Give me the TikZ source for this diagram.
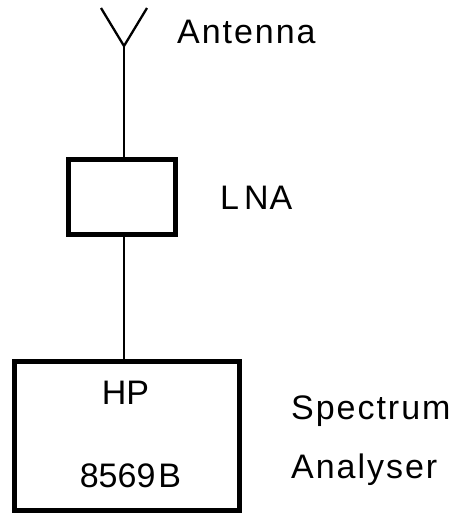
\documentclass[tikz,border=0pt]{standalone}
\usepackage{fontspec}
\setmainfont{Liberation Sans}
\newfontfamily\spaced[LetterSpace=5.8]{Liberation Sans}
\tikzset{lbl/.style={inner sep=0pt,font=\fontsize{34}{34}\selectfont,text=black},
wide/.style={lbl,font=\fontsize{34}{34}\selectfont\spaced},
thick box/.style={draw=black,line width=5pt,fill=white,inner sep=0pt,outer sep=0pt},
conn/.style={draw=black,line width=2.3pt}}
\begin{document}
\begin{tikzpicture}[x=1pt,y=-1pt]
\useasboundingbox (0,0) rectangle (455,515);
\node[thick box,minimum width=107pt,minimum height=75pt] (lna) at (122,197) {};
\node[thick box,minimum width=225pt,minimum height=149pt] (sa) at (127,436) {};
\coordinate (ant) at (124,46);
\coordinate (al) at (101,8);
\coordinate (ar) at (147,8);
\draw[conn] (ant) -- (lna.north -| ant);
\draw[conn] (lna.south -| ant) -- (sa.north -| ant);
\draw[conn,line join=miter] (al) -- (ant) -- (ar);
\node[wide,anchor=base west] (t1) at (177,43) {Antenna};
\node[lbl,anchor=base west] (t2) at (220,209) {L\kern5pt N\kern1pt A};
\node[lbl,anchor=base] (t3) at (125.5,404) {HP};
\node[lbl,anchor=base] (t4) at (130.5,487) {8569\kern3pt B};
\node[wide,anchor=base west] (t5) at (291,419) {Spectrum};
\node[wide,anchor=base west] (t6) at (291,478) {Analyser};
\end{tikzpicture}
\end{document}
